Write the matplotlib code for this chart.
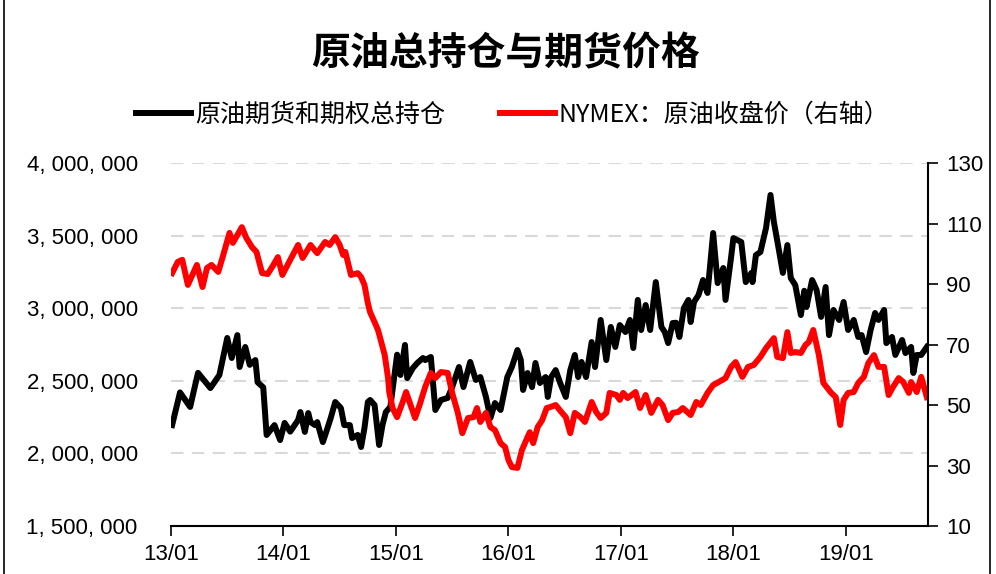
import matplotlib
matplotlib.use('Agg')
import matplotlib.pyplot as plt
from matplotlib.ticker import FuncFormatter
from matplotlib.patches import Rectangle

plt.rcParams['font.family'] = ['Noto Sans CJK SC', 'DejaVu Sans']

# 原油期货和期权总持仓 (手), x in decimal years
oi_t = [2013.01, 2013.08, 2013.17, 2013.24, 2013.35, 2013.43, 2013.50, 2013.54, 2013.59, 2013.61,
        2013.66, 2013.70, 2013.75, 2013.77, 2013.82, 2013.85, 2013.92, 2013.97, 2014.01, 2014.06,
        2014.13, 2014.15, 2014.19, 2014.22, 2014.24, 2014.28, 2014.30, 2014.35, 2014.38, 2014.42,
        2014.46, 2014.51, 2014.54, 2014.59, 2014.61, 2014.66, 2014.69, 2014.72, 2014.75, 2014.77,
        2014.81, 2014.85, 2014.88, 2014.91, 2014.95, 2014.99, 2015.01, 2015.04, 2015.08, 2015.10,
        2015.15, 2015.19, 2015.24, 2015.26, 2015.31, 2015.35, 2015.40, 2015.46, 2015.50, 2015.56,
        2015.60, 2015.66, 2015.71, 2015.75, 2015.80, 2015.84, 2015.88, 2015.93, 2015.99, 2016.03,
        2016.08, 2016.11, 2016.13, 2016.17, 2016.21, 2016.24, 2016.28, 2016.33, 2016.35, 2016.38,
        2016.42, 2016.46, 2016.51, 2016.55, 2016.59, 2016.62, 2016.65, 2016.69, 2016.74, 2016.77,
        2016.82, 2016.87, 2016.91, 2016.95, 2016.99, 2017.04, 2017.08, 2017.11, 2017.15, 2017.18,
        2017.22, 2017.26, 2017.31, 2017.36, 2017.39, 2017.42, 2017.46, 2017.49, 2017.52, 2017.56,
        2017.60, 2017.62, 2017.65, 2017.69, 2017.73, 2017.77, 2017.82, 2017.86, 2017.91, 2017.93,
        2017.98, 2018.00, 2018.07, 2018.11, 2018.16, 2018.17, 2018.20, 2018.24, 2018.29, 2018.33,
        2018.36, 2018.40, 2018.44, 2018.48, 2018.51, 2018.55, 2018.60, 2018.63, 2018.65, 2018.70,
        2018.74, 2018.78, 2018.82, 2018.85, 2018.89, 2018.94, 2018.98, 2019.02, 2019.07, 2019.11,
        2019.14, 2019.18, 2019.22, 2019.26, 2019.29, 2019.34, 2019.36, 2019.41, 2019.44, 2019.50,
        2019.53, 2019.58, 2019.60, 2019.63, 2019.67, 2019.72]
oi_val = [2195, 2420, 2320, 2555, 2450, 2540, 2795, 2657, 2815, 2595,
          2733, 2610, 2643, 2490, 2455, 2127, 2195, 2092, 2210, 2150,
          2230, 2285, 2148, 2278, 2216, 2195, 2216, 2078, 2148, 2244,
          2354, 2313, 2195, 2195, 2106, 2127, 2044, 2175, 2354, 2368,
          2333, 2058, 2195, 2285, 2320, 2560, 2680, 2540, 2747, 2519,
          2588, 2623, 2657, 2643, 2664, 2299, 2368, 2382, 2457, 2595,
          2457, 2630, 2506, 2526, 2389, 2244, 2347, 2299, 2526, 2595,
          2712, 2643, 2437, 2554, 2457, 2623, 2485, 2526, 2389, 2526,
          2574, 2485, 2389, 2574, 2678, 2526, 2630, 2526, 2767, 2595,
          2919, 2643, 2871, 2733, 2884, 2836, 2919, 2726, 3057, 2850,
          3022, 2850, 3180, 2871, 2836, 2760, 2898, 2900, 2802, 3001,
          3057, 2905, 3043, 3091, 3194, 3105, 3518, 3173, 3277, 3057,
          3353, 3483, 3456, 3180, 3243, 3180, 3366, 3387, 3552, 3780,
          3594, 3421, 3243, 3435, 3208, 3160, 2953, 3120, 3008, 3194,
          3125, 2940, 3146, 2815, 2988, 2919, 3043, 2850, 2919, 2802,
          2815, 2698, 2850, 2967, 2919, 2988, 2760, 2802, 2678, 2781,
          2691, 2733, 2554, 2678, 2678, 2733]
oi_val = [v * 1000 for v in oi_val]

# NYMEX 原油收盘价 (美元/桶)
px_t = [2013.01, 2013.06, 2013.10, 2013.15, 2013.23, 2013.28, 2013.32, 2013.36, 2013.42, 2013.46,
        2013.52, 2013.55, 2013.59, 2013.63, 2013.67, 2013.72, 2013.76, 2013.81, 2013.86, 2013.91,
        2013.95, 2013.99, 2014.06, 2014.13, 2014.17, 2014.24, 2014.30, 2014.37, 2014.41, 2014.46,
        2014.50, 2014.53, 2014.55, 2014.60, 2014.66, 2014.69, 2014.72, 2014.75, 2014.77, 2014.81,
        2014.84, 2014.86, 2014.90, 2014.93, 2014.94, 2014.97, 2015.01, 2015.06, 2015.09, 2015.13,
        2015.17, 2015.21, 2015.26, 2015.31, 2015.35, 2015.40, 2015.46, 2015.50, 2015.55, 2015.59,
        2015.64, 2015.69, 2015.72, 2015.75, 2015.80, 2015.84, 2015.88, 2015.93, 2015.97, 2016.00,
        2016.03, 2016.08, 2016.12, 2016.17, 2016.19, 2016.22, 2016.26, 2016.30, 2016.34, 2016.37,
        2016.42, 2016.47, 2016.51, 2016.55, 2016.59, 2016.64, 2016.68, 2016.74, 2016.78, 2016.82,
        2016.87, 2016.90, 2016.96, 2016.99, 2017.02, 2017.06, 2017.13, 2017.17, 2017.22, 2017.27,
        2017.33, 2017.37, 2017.42, 2017.46, 2017.51, 2017.55, 2017.62, 2017.67, 2017.71, 2017.77,
        2017.82, 2017.87, 2017.93, 2017.98, 2018.02, 2018.08, 2018.13, 2018.18, 2018.24, 2018.29,
        2018.36, 2018.39, 2018.44, 2018.48, 2018.51, 2018.55, 2018.60, 2018.64, 2018.67, 2018.71,
        2018.76, 2018.80, 2018.87, 2018.91, 2018.95, 2018.98, 2019.02, 2019.07, 2019.11, 2019.16,
        2019.20, 2019.25, 2019.29, 2019.34, 2019.38, 2019.42, 2019.47, 2019.51, 2019.56, 2019.58,
        2019.63, 2019.67, 2019.72]
px_val = [93.6, 97.3, 98.0, 89.7, 96.3, 89.0, 95.3, 96.3, 94.0, 99.0,
          106.9, 103.6, 106.2, 108.8, 105.2, 102.2, 100.6, 93.6, 93.3, 96.3,
          98.9, 93.0, 98.0, 102.9, 98.6, 102.9, 100.2, 103.9, 102.9, 105.5,
          102.9, 99.6, 100.6, 93.0, 93.6, 92.3, 89.7, 83.7, 80.7, 77.4,
          74.8, 72.1, 66.5, 58.9, 54.3, 49.0, 46.0, 51.0, 54.3, 50.0,
          45.7, 50.0, 56.0, 60.6, 58.9, 60.9, 60.6, 54.0, 47.4, 40.7,
          45.7, 46.0, 49.0, 44.4, 47.4, 42.7, 41.7, 37.4, 36.1, 31.8,
          29.5, 29.2, 35.1, 39.4, 41.0, 37.4, 42.7, 45.0, 49.0, 49.3,
          50.0, 47.7, 46.0, 40.7, 47.4, 46.0, 44.4, 51.0, 47.7, 45.7,
          47.4, 54.0, 53.3, 51.7, 54.0, 52.3, 54.3, 49.0, 53.3, 47.4,
          51.7, 50.0, 45.0, 47.4, 47.7, 49.0, 46.7, 51.0, 50.0, 54.0,
          56.6, 57.6, 58.9, 62.6, 64.2, 59.3, 62.6, 63.2, 65.9, 68.8,
          72.1, 65.9, 65.5, 74.1, 67.2, 67.5, 67.2, 69.8, 70.8, 74.8,
          66.5, 57.3, 54.0, 52.6, 43.4, 51.7, 54.0, 54.3, 57.3, 59.3,
          63.9, 66.5, 62.6, 62.6, 53.3, 56.0, 58.9, 57.6, 54.0, 57.6,
          54.3, 59.3, 52.6]

year_ticks = [2013, 2014, 2015, 2016, 2017, 2018, 2019]
year_labels = ['13/01', '14/01', '15/01', '16/01', '17/01', '18/01', '19/01']

num_font = ['Liberation Sans Narrow', 'Liberation Sans', 'DejaVu Sans']

fig = plt.figure(figsize=(9.96, 5.74), dpi=100)
ax = fig.add_axes([0.1717, 0.0836, 0.76, 0.6324])
ax2 = ax.twinx()

ax.plot(oi_t, oi_val, color='black', lw=4.3, solid_joinstyle='round', label='原油期货和期权总持仓')
ax2.plot(px_t, px_val, color='#ff0000', lw=4.3, solid_joinstyle='round', label='NYMEX：原油收盘价（右轴）')

ax.set_xlim(2013.0, 2019.73)
ax.set_ylim(1500000, 4000000)
ax.set_yticks(range(1500000, 4000001, 500000))
ax.yaxis.set_major_formatter(FuncFormatter(lambda v, p: '{:,}'.format(int(v)).replace(',', ', ')))
ax2.set_ylim(10, 130)
ax2.set_yticks(range(10, 131, 20))

ax.set_xticks(year_ticks)
ax.set_xticklabels(year_labels)

for y in range(2000000, 4000001, 500000):
    ax.axhline(y, color='#d9d9d9', lw=1.5, ls=(0, (6, 4)), zorder=0)

for a in (ax, ax2):
    a.spines['top'].set_visible(False)
    a.spines['left'].set_visible(False)
ax.spines['right'].set_visible(False)
ax.spines['bottom'].set_linewidth(1.5)
ax2.spines['bottom'].set_visible(False)
ax2.spines['right'].set_linewidth(1.5)

ax.tick_params(axis='y', length=0, pad=24, labelsize=16)
ax.tick_params(axis='x', direction='out', length=7, width=1.2, labelsize=16, pad=6)
ax2.tick_params(axis='y', direction='out', length=7, width=1.2, labelsize=16, pad=6)
for lab in ax.get_yticklabels() + ax.get_xticklabels() + ax2.get_yticklabels():
    lab.set_family(num_font)

fig.text(0.508, 0.907, '原油总持仓与期货价格', ha='center', va='center',
         fontsize=28, fontweight='bold')

h1, l1 = ax.get_legend_handles_labels()
h2, l2 = ax2.get_legend_handles_labels()
fig.legend(h1 + h2, l1 + l2, loc='center', bbox_to_anchor=(0.515, 0.80), ncol=2,
           frameon=False, fontsize=18, handlelength=2.2, handletextpad=0.15, columnspacing=2.2)

fig.patches.append(Rectangle((0.004, -0.01), 0.99, 1.02, transform=fig.transFigure,
                             fill=False, lw=1.2, edgecolor='black'))

fig.savefig('out.png', dpi=100)
